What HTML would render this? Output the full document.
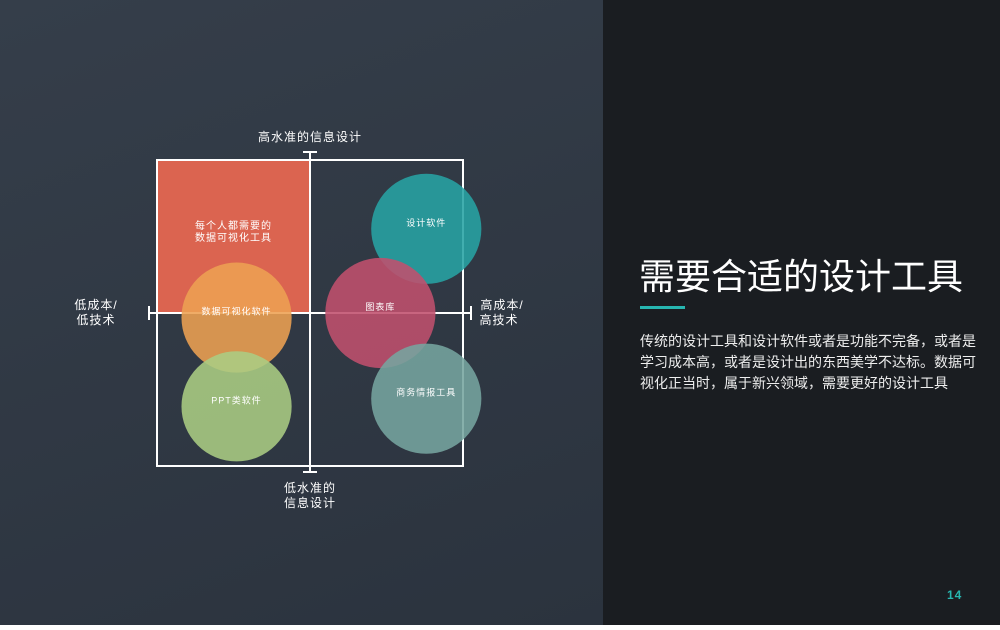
<!DOCTYPE html>
<html><head><meta charset="utf-8"><style>
body{margin:0;width:1000px;height:625px;overflow:hidden;font-family:"Liberation Sans","Noto Sans CJK SC",sans-serif}
#left{position:absolute;left:0;top:0;width:603px;height:625px;background:linear-gradient(160deg,#353e4a,#2b333e)}
#right{position:absolute;left:603px;top:0;width:397px;height:625px;background:#1a1d21;color:#fff}
</style></head><body>
<div id="left">
<svg width="603" height="625" id="chart"></svg>
</div>
<div id="right">
<div style="position:absolute;left:36px;top:248px;font-size:36px;white-space:nowrap;letter-spacing:0px">需要合适的设计工具</div>
<div style="position:absolute;left:37px;top:306px;width:45px;height:3px;background:#27b6b0"></div>
<div style="position:absolute;left:37px;top:331px;width:345px;font-size:14px;line-height:21px;color:#eee">传统的设计工具和设计软件或者是功能不完备，或者是学习成本高，或者是设计出的东西美学不达标。数据可视化正当时，属于新兴领域，需要更好的设计工具</div>
<div style="position:absolute;left:344px;top:588px;font-size:12px;font-weight:bold;color:#27b6b0;letter-spacing:1px">14</div>
</div>
<script>
const labels=["数据可视化软件","PPT类软件","设计软件","图表库","商务情报工具"];
const costVals=[-0.48,-0.48,0.76,0.46,0.76];
const qualityVals=[-0.03,-0.61,0.55,0.0,-0.56];
const radii=[0.36,0.36,0.36,0.36,0.36];
const colors=["#eda152","#abcd83","#27a3a4","#c0506d","#76a59f"];
const names=["circle-dataviz-software","circle-ppt-software","circle-design-software","circle-chart-library","circle-bi-tools"];
const cx=310,cy=313,half=153;
const X=v=>cx+v*half, Y=v=>cy-v*half, R=v=>v*half;
const NS="http://www.w3.org/2000/svg";
const svg=document.getElementById('chart');
function mk(t,a){const e=document.createElementNS(NS,t);for(const k in a)e.setAttribute(k,a[k]);svg.appendChild(e);return e;}
let r=mk('rect',{x:X(-1),y:Y(1),width:half,height:half,fill:'#db6450'});


let t=mk('text',{x:X(-0.5),y:Y(0.55),fill:'#fff','font-size':10,'text-anchor':'middle','letter-spacing':1});
t.textContent='每个人都需要的';


t=mk('text',{x:X(-0.5),y:Y(0.47),fill:'#fff','font-size':10,'text-anchor':'middle','letter-spacing':1});
t.textContent='数据可视化工具';


const g={stroke:'#fff','stroke-width':2,fill:'none'};
let b=mk('rect',{x:X(-1),y:Y(1),width:2*half,height:2*half,...g});


[[cx,152,cx,472],[149,cy,471,cy],[303,152,317,152],[303,472,317,472],[149,306,149,320],[471,306,471,320]].forEach(a=>{
 const l=mk('line',{x1:a[0],y1:a[1],x2:a[2],y2:a[3],...g});
 
 
});
labels.forEach((l,i)=>{
 const c=mk('circle',{cx:X(costVals[i]),cy:Y(qualityVals[i]),r:R(radii[i]),fill:colors[i],'fill-opacity':0.88});
 
 
});
labels.forEach((l,i)=>{
 const tx=mk('text',{x:X(costVals[i]),y:Y(qualityVals[i])-3,fill:'#fff','font-size':9,'text-anchor':'middle','letter-spacing':1});
 tx.textContent=l;
 
 
});
const axl=[["高水准的信息设计",310,141,"middle"],["低成本/",96,309,"middle"],["低技术",96,324,"middle"],["高成本/",502,309,"middle"],["高技术",499,324,"middle"],["低水准的",310,492,"middle"],["信息设计",310,507,"middle"]];
axl.forEach(a=>{
 const tx=mk('text',{x:a[1],y:a[2],fill:'#fff','font-size':12,'text-anchor':a[3],'letter-spacing':1});
 tx.textContent=a[0];
 
 
});
</script>
</body></html>
